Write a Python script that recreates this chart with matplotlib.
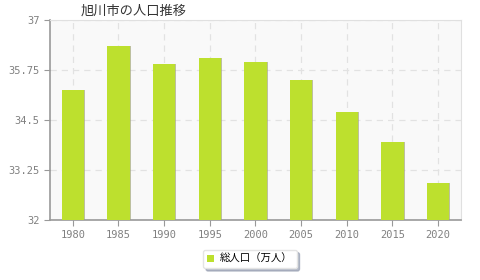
import numpy as np
import matplotlib.pyplot as plt

plt.rcParams['font.family'] = ['Noto Sans CJK JP', 'DejaVu Sans']

years = ['1980', '1985', '1990', '1995', '2000', '2005', '2010', '2015', '2020']
pop = [35.26, 36.36, 35.90, 36.06, 35.95, 35.50, 34.71, 33.96, 32.93]
yticks = [32, 33.25, 34.5, 35.75, 37]

fig = plt.figure(figsize=(4.8, 2.8), dpi=100)
ax = fig.add_axes([50 / 480, 60 / 280, 411 / 480, 200 / 280])
ax.set_facecolor('#f9f9f9')

x = np.arange(len(years))
# thin shadow on the right of the bars
ax.bar(x + 0.02, pop, width=0.49, color='#a4a87a', alpha=0.7, zorder=2)
ax.bar(x, pop, width=0.49, color='#bde02e', zorder=3, label='総人口（万人）')

ax.set_xlim(-0.5, len(years) - 0.5)
ax.set_ylim(32, 37)
ax.set_yticks(yticks)
ax.set_yticklabels(['32', '33.25', '34.5', '35.75', '37'])
ax.set_xticks(x)
ax.set_xticklabels(years)
ax.tick_params(colors='#999999', labelcolor='#808080', labelsize=7.5, length=4)
for lab in ax.get_xticklabels() + ax.get_yticklabels():
    lab.set_family('DejaVu Sans Mono')

ax.grid(True, color='#e2e2e2', linestyle=(0, (5, 4)), linewidth=0.9, zorder=1)
ax.set_axisbelow(True)

for s in ['left', 'bottom']:
    ax.spines[s].set_color('#999999')
    ax.spines[s].set_linewidth(1.2)
for s in ['top', 'right']:
    ax.spines[s].set_color('#e0e0e0')

fig.text(81 / 480, 1 - 11 / 280, '旭川市の人口推移', fontsize=9.5, color='#333333', va='center', ha='left')

leg = fig.legend(loc='center', bbox_to_anchor=(250 / 480, 1 - 259 / 280), fontsize=7.5,
                 frameon=True, fancybox=True, shadow={'color': '#8a93a8', 'alpha': 0.6},
                 handlelength=0.6, handleheight=0.6, handletextpad=0.6, borderpad=0.4,
                 edgecolor='#e4e4e4')
leg.get_frame().set_facecolor('white')

fig.savefig('out.png', dpi=100)
